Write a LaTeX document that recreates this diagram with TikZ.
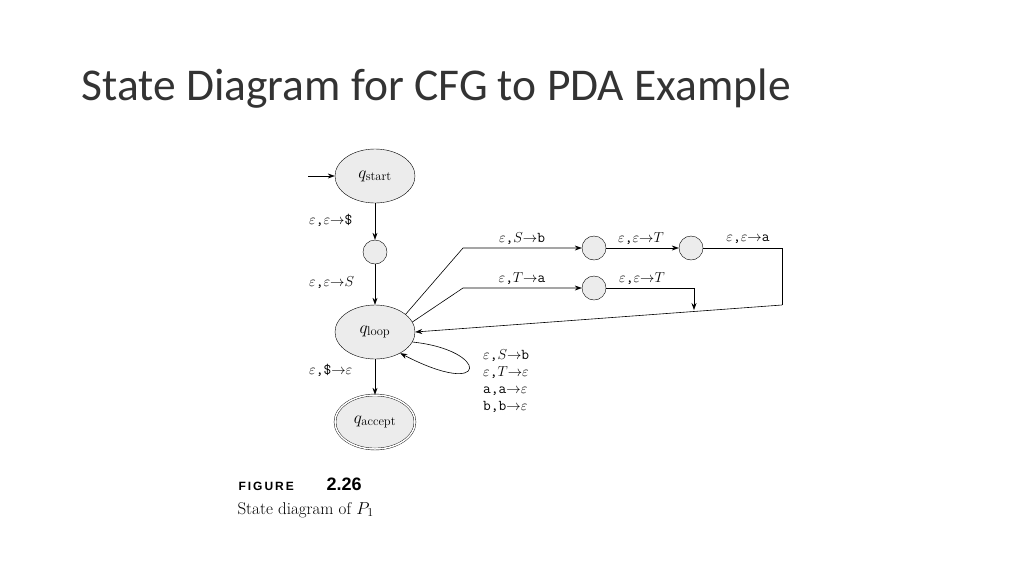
\documentclass[tikz,border=0pt]{standalone}
\usepackage{fontspec}
\newfontfamily\titlefont{Carlito}
\newfontfamily\capfont{Liberation Sans}
\usetikzlibrary{arrows.meta,positioning,shapes.geometric}
\tikzset{
  state/.style={draw,ellipse,fill=gray!15,minimum width=80pt,minimum height=54pt,inner sep=0pt},
  small/.style={draw,circle,fill=gray!15,minimum size=24pt,inner sep=0pt},
  lab/.style={font=\fontsize{15}{17}\selectfont\ttfamily,inner sep=0pt},
  edge/.style={-{Stealth[length=7pt,width=5pt]},semithick}
}
\newcommand{\eps}{$\varepsilon$}
\newcommand{\ar}{$\rightarrow$}
\begin{document}
\begin{tikzpicture}[x=1pt,y=-1pt]
  \useasboundingbox (0,0) rectangle (1024,576);
  \node[anchor=base west,text=black!80,font=\titlefont\fontsize{45.5}{50}\selectfont] (title) at (78,100) {State Diagram for CFG to PDA Example};

  % states
  \node[state] (qs) at (375,176) {\fontsize{18}{20}\selectfont$q_{\mathrm{start}}$};
  \node[small] (q1) at (375,252) {};
  \node[state] (ql) at (375,332) {\fontsize{18}{20}\selectfont$q_{\mathrm{loop}}$};
  \node[state,double,double distance=1.5pt] (qa) at (375,422) {\fontsize{18}{20}\selectfont$q_{\mathrm{accept}}$};
  \node[small] (q2) at (594,248) {};
  \node[small] (q3) at (691,248) {};
  \node[small] (q4) at (594,288) {};

  \coordinate (in) at (308,176);
  \coordinate (b1) at (463,248);
  \coordinate (b2) at (463,288);
  \coordinate (c1) at (782,248);
  \coordinate (c2) at (782,305);
  \coordinate (d2) at (694,310);

  % edges
  \draw[edge] (in) -- (qs);
  \draw[edge] (qs) -- (q1);
  \draw[edge] (q1) -- (ql);
  \draw[edge] (ql) -- (qa);
  \draw[edge] (ql.30) -- (b1) -- (q2);
  \draw[edge] (q2) -- (q3);
  \draw[semithick] (q3) -- (c1) -- (c2);
  \draw[edge] (c2) -- (ql.east);
  \draw[edge] (ql.15) -- (b2) -- (q4);
  \draw[edge] (q4) -| (d2);
  \draw[edge] (ql.-15) .. controls (490,350) and (490,400) .. (ql.-40);

  % labels
  \node[lab,anchor=west] (l1) at (309,220) {\eps,\eps\ar\$};
  \node[lab,anchor=west] (l2) at (309,283) {\eps,\eps\ar$S$};
  \node[lab,anchor=west] (l3) at (309,370) {\eps,\$\ar\eps};
  \node[lab] (l4) at (522,239) {\eps,$S$\ar b};
  \node[lab] (l5) at (641,239) {\eps,\eps\ar$T$};
  \node[lab] (l6) at (748,239) {\eps,\eps\ar a};
  \node[lab] (l7) at (522,279) {\eps,$T$\ar a};
  \node[lab] (l8) at (642,279) {\eps,\eps\ar$T$};
  \node[lab,anchor=north west,align=left,font=\fontsize{15}{17}\selectfont\ttfamily] (l9) at (483,349)
    {\eps,$S$\ar b\\\eps,$T$\ar\eps\\a,a\ar\eps\\b,b\ar\eps};

  % caption
  \node[anchor=base west,font=\capfont\bfseries\fontsize{12}{14}\selectfont] (fig) at (235,490) {F\,I\,G\,U\,R\,E};
  \node[anchor=base west,font=\capfont\bfseries\fontsize{18}{20}\selectfont] (num) at (323,490) {2.26};
  \node[anchor=base west,font=\fontsize{17}{19}\selectfont] (cap) at (234,514) {State diagram of $P_1$};
\end{tikzpicture}
\end{document}
